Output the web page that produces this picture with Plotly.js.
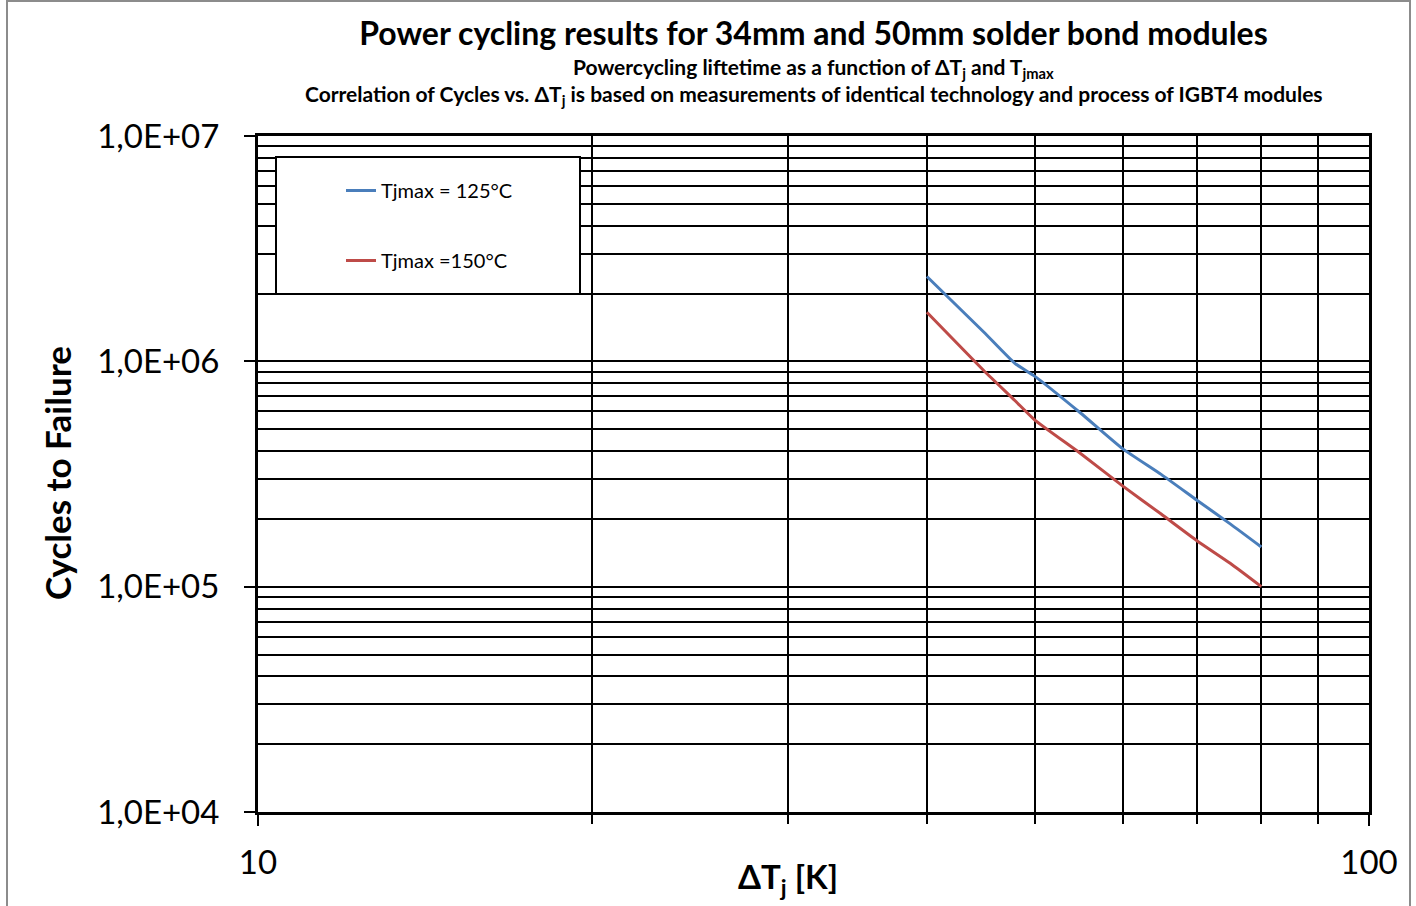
<!DOCTYPE html>
<html>
<head>
<meta charset="utf-8">
<script src="https://cdn.plot.ly/plotly-3.0.1.min.js"></script>
<style>html,body{margin:0;padding:0;background:#fff;}#chart{width:1416px;height:906px;}</style>
</head>
<body>
<div id="chart"></div>
<script>
// ---- data ----
const deltaTj = [40, 45, 48, 50, 55, 60, 65, 70, 75, 80];
const cycles125 = [2.38e6, 1.35e6, 9.8e5, 8.6e5, 5.9e5, 4.1e5, 3.15e5, 2.42e5, 1.9e5, 1.5e5];
const cycles150 = [1.65e6, 9.1e5, 6.7e5, 5.5e5, 3.9e5, 2.8e5, 2.1e5, 1.6e5, 1.27e5, 1.0e5];
const seriesNames = ['Tjmax = 125°C', 'Tjmax =150°C'];
const yTickVals = [1e4, 1e5, 1e6, 1e7];
const yTickText = ['1,0E+04', '1,0E+05', '1,0E+06', '1,0E+07'];
const xTickVals = [10, 100];
const xTickText = ['10', '100'];
const xMinorVals = [20, 30, 40, 50, 60, 70, 80, 90];
const yMinorMult = [2, 3, 4, 5, 6, 7, 8, 9];

const yMinorVals = [];
[1e4, 1e5, 1e6].forEach(d => yMinorMult.forEach(m => yMinorVals.push(d * m)));

const FONT = 'Lato, "Open Sans", sans-serif';

const traces = [
  {x: deltaTj, y: cycles125, name: seriesNames[0], mode: 'lines', legendgroup: 'a',
   line: {color: '#4A7EBB', width: 3, shape: 'spline', smoothing: 0.5}},
  {x: deltaTj, y: cycles150, name: seriesNames[1], mode: 'lines', legendgroup: 'b',
   line: {color: '#BE4B48', width: 3, shape: 'spline', smoothing: 0.5}}
];

const layout = {
  width: 1416, height: 906,
  margin: {l: 258, r: 47, t: 136, b: 94},
  paper_bgcolor: '#fff', plot_bgcolor: '#fff',
  font: {family: FONT, color: '#000'},
  title: {text: '<b>Power cycling results for 34mm and 50mm solder bond modules</b>',
          font: {family: FONT, size: 32, color: '#000'},
          x: 0.5, xref: 'paper', xanchor: 'center', y: 1 - 34/906, yanchor: 'middle'},
  xaxis: {type: 'log', range: [1, 2],
          tickmode: 'array', tickvals: xTickVals, ticktext: xTickText,
          ticks: 'outside', ticklen: 11, tickwidth: 2, tickcolor: '#000',
          tickfont: {family: FONT, size: 33, color: '#000'}, ticklabelstandoff: 8,
          showgrid: true, gridcolor: '#000', gridwidth: 2,
          showline: true, linecolor: '#000', linewidth: 3, mirror: true,
          minor: {tickmode: 'array', tickvals: xMinorVals, ticks: 'outside', ticklen: 9,
                  tickwidth: 2, tickcolor: '#000', showgrid: true, gridcolor: '#000', gridwidth: 2},
          zeroline: false},
  yaxis: {type: 'log', range: [4, 7],
          tickmode: 'array', tickvals: yTickVals, ticktext: yTickText,
          ticks: 'outside', ticklen: 11, tickwidth: 2, tickcolor: '#000',
          tickfont: {family: FONT, size: 33, color: '#000'}, ticklabelstandoff: 18,
          showgrid: true, gridcolor: '#000', gridwidth: 2,
          showline: true, linecolor: '#000', linewidth: 3, mirror: true,
          minor: {tickmode: 'array', tickvals: yMinorVals, ticks: '',
                  showgrid: true, gridcolor: '#000', gridwidth: 2},
          zeroline: false},
  showlegend: true,
  legend: {x: (341-258)/1111, xanchor: 'left', y: (812-171)/676, yanchor: 'top',
           bgcolor: 'rgba(0,0,0,0)', borderwidth: 0,
           font: {family: FONT, size: 20, color: '#000'},
           traceorder: 'grouped', tracegroupgap: 41},
  shapes: [
    {type: 'rect', xref: 'paper', yref: 'paper', x0: (276-258)/1111, x1: (580-258)/1111,
     y0: (812-294)/676, y1: (812-157)/676, fillcolor: '#fff', line: {color: '#000', width: 2}, layer: 'above'},
    {type: 'rect', xref: 'paper', yref: 'paper', x0: (7-258)/1111, x1: (1410-258)/1111,
     y0: (812-920)/676, y1: (812-1)/676, fillcolor: 'rgba(0,0,0,0)', line: {color: '#8c8c8c', width: 2}, layer: 'above'}
  ],
  annotations: [
    {text: '<b>Powercycling liftetime as a function of ΔT<sub>j</sub> and T<sub>jmax</sub></b>',
     xref: 'paper', yref: 'paper', x: 0.5, y: (812-68)/676, xanchor: 'center', yanchor: 'middle',
     showarrow: false, font: {family: FONT, size: 21, color: '#000'}},
    {text: '<b>Correlation of Cycles vs. ΔT<sub>j</sub> is based on measurements of identical technology and process of IGBT4 modules</b>',
     xref: 'paper', yref: 'paper', x: 0.5, y: (812-95)/676, xanchor: 'center', yanchor: 'middle',
     showarrow: false, font: {family: FONT, size: 21, color: '#000'}},
    {text: '<b>ΔT<sub>j</sub> [K]</b>',
     xref: 'paper', yref: 'paper', x: (788-258)/1111, y: (812-878)/676, xanchor: 'center', yanchor: 'middle',
     showarrow: false, font: {family: FONT, size: 33, color: '#000'}},
    {text: '<b>Cycles to Failure</b>', textangle: -90,
     xref: 'paper', yref: 'paper', x: (57-258)/1111, y: (812-473)/676, xanchor: 'center', yanchor: 'middle',
     showarrow: false, font: {family: FONT, size: 35, color: '#000'}}
  ]
};

Plotly.newPlot('chart', traces, layout, {displayModeBar: false, staticPlot: true});
</script>
</body>
</html>
